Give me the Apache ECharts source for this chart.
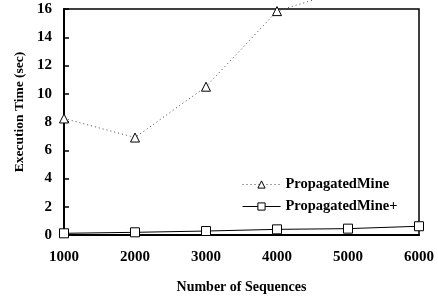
<!DOCTYPE html>
<html>
<head>
<meta charset="utf-8">
<script src="https://cdn.jsdelivr.net/npm/echarts@6/dist/echarts.min.js"></script>
<style>
  html, body { margin: 0; padding: 0; background: #fff; }
  #chart { width: 438px; height: 299px; }
</style>
</head>
<body>
<div id="chart"></div>
<script>
// 序列数（x轴）
const sequences = [1000, 2000, 3000, 4000, 5000, 6000];
// 执行时间
const propagatedMine = [8.25, 6.9, 10.5, 15.85, 17.4, 19.5];
const propagatedMinePlus = [0.12, 0.19, 0.28, 0.4, 0.45, 0.62];
const yTicks = [0, 2, 4, 6, 8, 10, 12, 14, 16];

const serif = "Liberation Serif";
let chart = echarts.init(document.getElementById("chart"));

let option = {
  animation: false,
  grid: {
    left: 64,
    right: 19,
    top: 9,
    bottom: 64,
    show: true,
    borderColor: "#000",
    borderWidth: 1.5,
  },
  legend: {
    left: 237,
    top: 172,
    orient: "vertical",
    itemWidth: 38,
    itemHeight: 9,
    itemGap: 7,
    lineStyle: { width: 1 },
    itemStyle: { color: "#fff", borderColor: "#000", borderWidth: 1 },
    textStyle: { fontFamily: serif, fontWeight: "bold", fontSize: 14.5, color: "#000" },
    data: ["PropagatedMine", "PropagatedMine+"],
  },
  xAxis: {
    type: "value",
    min: 1000,
    max: 6000,
    interval: 1000,
    name: "Number of Sequences",
    nameLocation: "middle",
    nameGap: 45,
    nameTextStyle: { fontFamily: serif, fontWeight: "bold", fontSize: 14, color: "#000" },
    axisLine: { lineStyle: { color: "#000", width: 2 } },
    axisTick: { show: false },
    axisLabel: {
      margin: 15,
      fontFamily: serif,
      fontWeight: "bold",
      fontSize: 15,
      color: "#000",
      formatter: (v) => String(v),
    },
    splitLine: { show: false },
  },
  yAxis: {
    type: "value",
    min: 0,
    max: 16,
    interval: 2,
    name: "Execution Time (sec)",
    nameLocation: "middle",
    nameGap: 37,
    nameTextStyle: { fontFamily: serif, fontWeight: "bold", fontSize: 13.5, color: "#000", padding: [0, 0, 0, 20] },
    axisLine: { lineStyle: { color: "#000", width: 2 } },
    axisTick: { show: true, inside: true, length: 5, lineStyle: { color: "#000", width: 1.5 } },
    axisLabel: {
      margin: 12,
      fontFamily: serif,
      fontWeight: "bold",
      fontSize: 15,
      color: "#000",
      formatter: (v) => (yTicks.includes(v) ? String(v) : ""),
    },
    splitLine: { show: false },
  },
  series: [
    {
      name: "PropagatedMine",
      type: "line",
      clip: false,
      data: sequences.map((s, i) => [s, propagatedMine[i]]),
      symbol: "triangle",
      symbolSize: 9,
      lineStyle: { color: "#444", width: 1, type: [1, 3] },
      itemStyle: { color: "#fff", borderColor: "#000", borderWidth: 1 },
    },
    {
      name: "PropagatedMine+",
      type: "line",
      data: sequences.map((s, i) => [s, propagatedMinePlus[i]]),
      symbol: "rect",
      symbolSize: 9,
      lineStyle: { color: "#000", width: 1 },
      itemStyle: { color: "#fff", borderColor: "#000", borderWidth: 1 },
    },
  ],
};
option && chart.setOption(option);
</script>
</body>
</html>
